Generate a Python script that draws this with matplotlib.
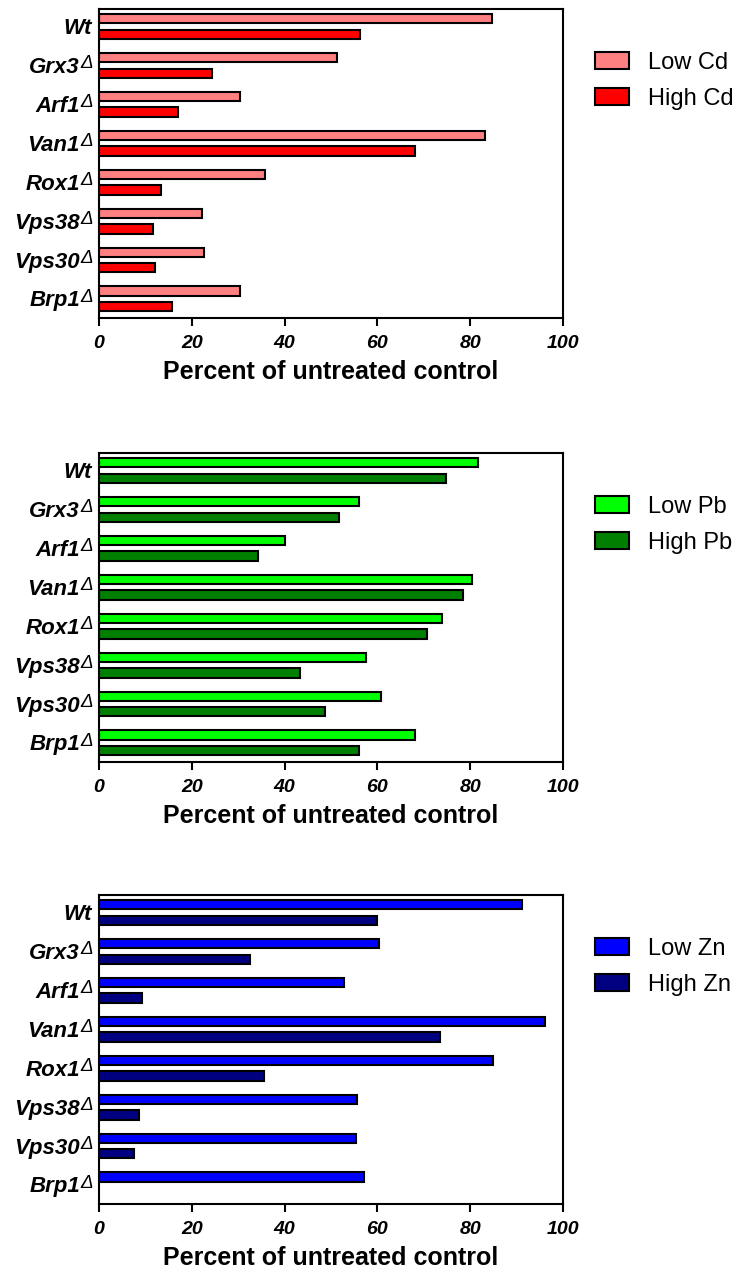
import matplotlib
matplotlib.use('Agg')
import matplotlib.pyplot as plt
import numpy as np

plt.rcParams['font.family'] = ['Liberation Sans', 'DejaVu Sans']

# strains, top to bottom
STRAINS = ['Wt', 'Grx3', 'Arf1', 'Van1', 'Rox1', 'Vps38', 'Vps30', 'Brp1']
DELETION = [False, True, True, True, True, True, True, True]

# percent of untreated control
CD_LOW = [84.7, 51.4, 30.3, 83.2, 35.7, 22.1, 22.7, 30.3]
CD_HIGH = [56.3, 24.3, 17.1, 68.2, 13.3, 11.6, 12.0, 15.8]
PB_LOW = [81.6, 56.0, 40.1, 80.4, 73.9, 57.5, 60.7, 68.2]
PB_HIGH = [74.7, 51.7, 34.2, 78.5, 70.6, 43.4, 48.6, 56.1]
ZN_LOW = [91.2, 60.3, 52.7, 96.2, 85.0, 55.7, 55.3, 57.2]
ZN_HIGH = [60.0, 32.6, 9.2, 73.4, 35.6, 8.6, 7.5, np.nan]   # no bar for Brp1

METALS = ['Cd', 'Pb', 'Zn']
COLORS = [('#FF8080', '#FF0000'), ('#00FF00', '#007F00'), ('#0000FF', '#000080')]
XTICKS = [0, 20, 40, 60, 80, 100]

W, H = 740, 1276
AX_TOP = [9, 453, 895]      # pixel row of each panel's top spine
AX_H = 309
AX_LEFT, AX_W = 99, 464

if __name__ == '__main__':
    fig = plt.figure(figsize=(W / 100, H / 100), dpi=100)
    y = np.arange(len(STRAINS))
    series = [(CD_LOW, CD_HIGH), (PB_LOW, PB_HIGH), (ZN_LOW, ZN_HIGH)]

    for i, (low, high) in enumerate(series):
        top = AX_TOP[i]
        ax = fig.add_axes([AX_LEFT / W, 1 - (top + AX_H) / H, AX_W / W, AX_H / H])
        ax.barh(y - 0.2, low, height=0.24, color=COLORS[i][0], edgecolor='black',
                linewidth=1.5, label='Low ' + METALS[i])
        ax.barh(y + 0.2, high, height=0.24, color=COLORS[i][1], edgecolor='black',
                linewidth=1.5, label='High ' + METALS[i])
        ax.set_xlim(0, 100)
        ax.set_ylim(7.49, -0.45)
        ax.set_yticks(y)
        ax.set_yticklabels([])
        # strain names, with a raised italic delta for the deletion strains
        for yi, name, dele in zip(y, STRAINS, DELETION):
            ax.annotate(name, xy=(0, yi), xycoords=('axes fraction', 'data'),
                        xytext=(-19 if dele else -7, -7.5), textcoords='offset pixels',
                        ha='right', va='baseline', fontsize=16, fontweight='bold',
                        fontstyle='italic')
            if dele:
                ax.annotate('\u0394', xy=(0, yi), xycoords=('axes fraction', 'data'),
                            xytext=(-6, -2.7), textcoords='offset pixels',
                            ha='right', va='baseline', fontsize=13.5, fontstyle='italic')
        ax.set_xticks(XTICKS)
        ax.set_xticklabels([str(t) for t in XTICKS], fontsize=14, fontweight='bold',
                           fontstyle='italic')
        ax.tick_params(axis='y', length=0)
        ax.tick_params(axis='x', length=6, width=1.5, pad=6)
        for sp in ax.spines.values():
            sp.set_linewidth(1.5)
        ax.set_xlabel('Percent of untreated control', fontsize=18, fontweight='bold',
                      labelpad=6)
        ax.legend(loc='upper left', bbox_to_anchor=(595 / W, 1 - (top + 43) / H),
                  bbox_transform=fig.transFigure, frameon=False, fontsize=17,
                  handlelength=1.44, handleheight=0.76, handletextpad=0.8,
                  labelspacing=0.58, borderpad=0, borderaxespad=0)

    plt.savefig('out.png', dpi=100)
